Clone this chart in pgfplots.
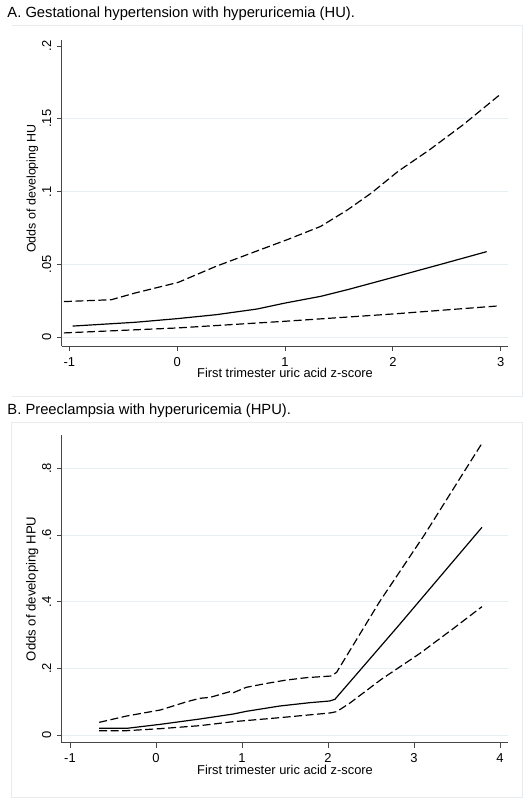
\documentclass[border=0pt]{standalone}
\usepackage{fontspec}
\setmainfont{Liberation Sans}
\usepackage{pgfplots}
\pgfplotsset{compat=1.18}
\definecolor{gridc}{RGB}{230,239,241}
\definecolor{framec}{RGB}{232,236,238}
\definecolor{axc}{RGB}{70,70,70}
\pgfplotsset{
  statastyle/.style={
    scale only axis, width=446.6bp,
    axis x line*=bottom, axis y line*=left,
    axis line style={axc, line width=0.9bp, -},
    tick align=outside, major tick length=5bp,
    every tick/.style={axc, line width=0.9bp},
    ymajorgrids, grid style={gridc, line width=0.9bp},
    xticklabel style={font=\fontsize{13}{13}\selectfont, anchor=north, inner sep=0pt, yshift=-6bp},
    yticklabel style={font=\fontsize{13}{13}\selectfont, xshift=-5.3bp, rotate=90, anchor=south, inner sep=0pt},
    /pgf/number format/assume math mode=true,
    xlabel style={font=\fontsize{12.9}{13}\selectfont, anchor=center, inner sep=0pt},
    ylabel style={anchor=center, inner sep=0pt},
  },
  sol/.style={black, solid, line width=1.2bp, no markers},
  dsh/.style={black, line width=1.2bp, no markers, dash pattern=on 8bp off 3.5bp},
}
\begin{document}
\begin{tikzpicture}[x=1bp,y=1bp]
\path[use as bounding box] (0,0) rectangle (529,801);
% frames
\draw[framec, line width=0.8bp] (11.7,775.3) -- (522,775.3) -- (522,405) -- (11.7,405);
\draw[framec, line width=0.8bp] (11.7,378.3) rectangle (522,3.3);
% titles
\node[anchor=base west, inner sep=0pt, font=\fontsize{14.8}{15}\selectfont] at (7.3,783.7) {A. Gestational hypertension with hyperuricemia (HU).};
\node[anchor=base west, inner sep=0pt, font=\fontsize{14.8}{15}\selectfont] at (7.3,386) {B. Preeclampsia with hyperuricemia (HPU).};

% Panel A
\begin{axis}[statastyle, at={(61.7bp,455bp)}, anchor=south west,
  height=306bp,
  xmin=-1.0705, xmax=3.0705, ymin=-0.00597, ymax=0.2041,
  xtick={-1,0,1,2,3}, xticklabels={-1,0,1,2,3},
  ytick={0,0.05,0.1,0.15}, yticklabels={0,.05,.1,.15},
  extra y ticks={0.2}, extra y tick labels={.2},
  extra y tick style={grid=none},
  xlabel={First trimester uric acid z-score},
  ylabel={Odds of developing HU},
  xlabel style={at={(axis description cs:0.5,-0.0892)}},
  ylabel style={font=\fontsize{12.5}{13}\selectfont, at={(axis description cs:-0.0658,0.515)}},
]
\addplot[dsh] coordinates {(-1.05,0.0245) (-0.61,0.0258) (-0.39,0.0304) (0.01,0.0377) (0.36,0.0487) (0.77,0.0601) (1.02,0.067) (1.33,0.0761) (1.58,0.0875) (1.80,0.099) (2.05,0.114) (2.34,0.1287) (2.65,0.1458) (2.99,0.1664)};
\addplot[sol] coordinates {(-0.97,0.0077) (-0.39,0.0103) (0.0,0.0128) (0.36,0.0155) (0.74,0.0194) (1.0,0.0235) (1.33,0.0281) (1.58,0.0327) (2.0,0.0411) (2.43,0.0498) (2.87,0.0588)};
\addplot[dsh] coordinates {(-1.05,0.003) (0.0,0.0064) (1.0,0.011) (2.0,0.016) (2.99,0.0216)};
\end{axis}

% Panel B
\begin{axis}[statastyle, at={(61.7bp,58.3bp)}, anchor=south west,
  height=307.7bp,
  xmin=-1.0965, xmax=4.0965, ymin=-0.0231, ymax=0.9,
  xtick={-1,0,1,2,3,4}, xticklabels={-1,0,1,2,3,4},
  ytick={0,0.2,0.4,0.6,0.8}, yticklabels={0,.2,.4,.6,.8},
  xlabel={First trimester uric acid z-score},
  ylabel={Odds of developing HPU},
  xlabel style={at={(axis description cs:0.5,-0.0887)}},
  ylabel style={font=\fontsize{13.2}{14}\selectfont, at={(axis description cs:-0.0658,0.5)}},
]
\addplot[dsh] coordinates {(-0.66,0.038) (-0.34,0.057) (0.05,0.075) (0.36,0.100) (0.51,0.110) (0.63,0.113) (0.86,0.130) (0.90,0.127) (1.05,0.143) (1.29,0.155) (1.52,0.165) (1.75,0.172) (2.04,0.177) (2.10,0.188) (2.60,0.40) (3.12,0.60) (3.79,0.875)};
\addplot[sol] coordinates {(-0.66,0.020) (-0.34,0.020) (0.05,0.032) (0.51,0.048) (0.90,0.063) (1.05,0.071) (1.44,0.087) (1.79,0.097) (2.02,0.102) (2.08,0.107) (2.81,0.325) (3.79,0.623)};
\addplot[dsh] coordinates {(-0.66,0.013) (-0.34,0.013) (0.05,0.019) (0.51,0.028) (0.90,0.040) (1.44,0.052) (2.02,0.066) (2.10,0.070) (2.25,0.095) (2.62,0.167) (3.07,0.245) (3.46,0.32) (3.79,0.385)};
\end{axis}
\end{tikzpicture}
\end{document}
